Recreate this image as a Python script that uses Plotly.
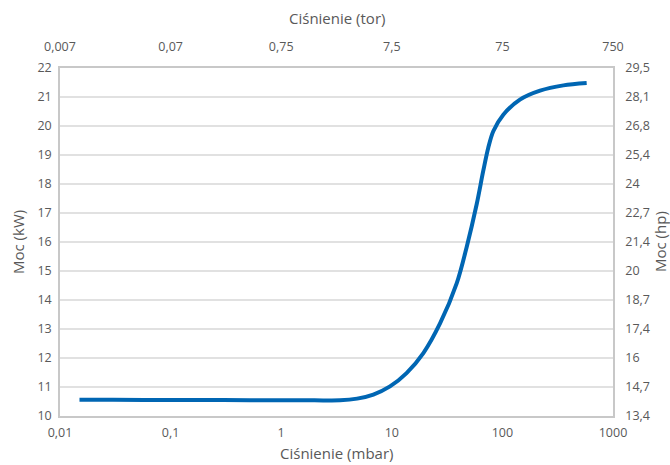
import plotly.graph_objects as go

# Data
pressure_mbar = [0.015, 0.03, 0.1, 0.3, 1, 2.0, 3.4, 4.86, 6.81, 9.63, 13.6, 19.3, 27.3, 38.6, 47.5, 58.6, 67.1, 74.5, 82.7, 101.9, 144, 219, 356, 578]
power_kw = [10.56, 10.56, 10.55, 10.55, 10.54, 10.54, 10.54, 10.60, 10.74, 11.02, 11.48, 12.17, 13.19, 14.57, 15.82, 17.31, 18.45, 19.25, 19.82, 20.39, 20.91, 21.22, 21.40, 21.48]

mbar_ticks = [0.01, 0.1, 1, 10, 100, 1000]
mbar_labels = ["0,01", "0,1", "1", "10", "100", "1000"]
tor_labels = ["0,007", "0,07", "0,75", "7,5", "75", "750"]
kw_ticks = list(range(10, 23))
hp_labels = ["13,4", "14,7", "16", "17,4", "18,7", "20", "21,4", "22,7", "24", "25,4", "26,8", "28,1", "29,5"]

FONT = "Open Sans"
GREY = "#595959"
TICKSZ = 12.5
TITLESZ = 15

fig = go.Figure()
fig.add_trace(go.Scatter(
    x=pressure_mbar, y=power_kw, mode="lines",
    line=dict(color="#0066b3", width=4, shape="spline", smoothing=0.9),
    hoverinfo="skip", showlegend=False,
))
fig.add_trace(go.Scatter(
    x=[mbar_ticks[0], mbar_ticks[-1]], y=[kw_ticks[0], kw_ticks[-1]], mode="markers",
    marker=dict(opacity=0), xaxis="x2", yaxis="y2", hoverinfo="skip", showlegend=False,
))

common = dict(zeroline=False, showline=True, linecolor="#c8c8c8", linewidth=1.5,
              ticks="outside", tickcolor="rgba(0,0,0,0)", automargin=False,
              tickfont=dict(size=TICKSZ, color=GREY))

fig.update_layout(
    width=670, height=465,
    margin=dict(l=60, r=57, t=68, b=49),
    plot_bgcolor="white", paper_bgcolor="white",
    font=dict(family=FONT, size=TICKSZ, color=GREY),
    xaxis=dict(type="log", range=[-2, 3], tickvals=mbar_ticks, ticktext=mbar_labels,
               showgrid=False, ticklen=4, **common),
    xaxis2=dict(type="log", range=[-2, 3], tickvals=mbar_ticks, ticktext=tor_labels,
                overlaying="x", side="top", showgrid=False, ticklen=10, **common),
    yaxis=dict(range=[10, 22], tickvals=kw_ticks, ticktext=[str(v) for v in kw_ticks],
               showgrid=True, gridcolor="#e1e1e1", gridwidth=1.5, ticklen=4, **common),
    yaxis2=dict(range=[10, 22], tickvals=kw_ticks, ticktext=hp_labels,
                overlaying="y", side="right", showgrid=False, ticklen=8, **common),
)

tfont = dict(family=FONT, size=TITLESZ, color=GREY)
fig.add_annotation(text="Ciśnienie (tor)", xref="paper", yref="paper", x=0.5, y=1,
                   xanchor="center", yanchor="middle", yshift=50, showarrow=False, font=tfont)
fig.add_annotation(text="Ciśnienie (mbar)", xref="paper", yref="paper", x=0.5, y=0,
                   xanchor="center", yanchor="middle", yshift=-37, showarrow=False, font=tfont)
fig.add_annotation(text="Moc (kW)", xref="paper", yref="paper", x=0, y=0.5,
                   xanchor="center", yanchor="middle", xshift=-42, textangle=-90,
                   showarrow=False, font=tfont)
fig.add_annotation(text="Moc (hp)", xref="paper", yref="paper", x=1, y=0.5,
                   xanchor="center", yanchor="middle", xshift=47, textangle=-90,
                   showarrow=False, font=tfont)

# remove the browser's default page margin so the 670x465 figure fills the window
fig.write_html("out.html",
               config={"displayModeBar": False},
               post_script="document.body.style.margin='0';document.body.style.overflow='hidden';")
